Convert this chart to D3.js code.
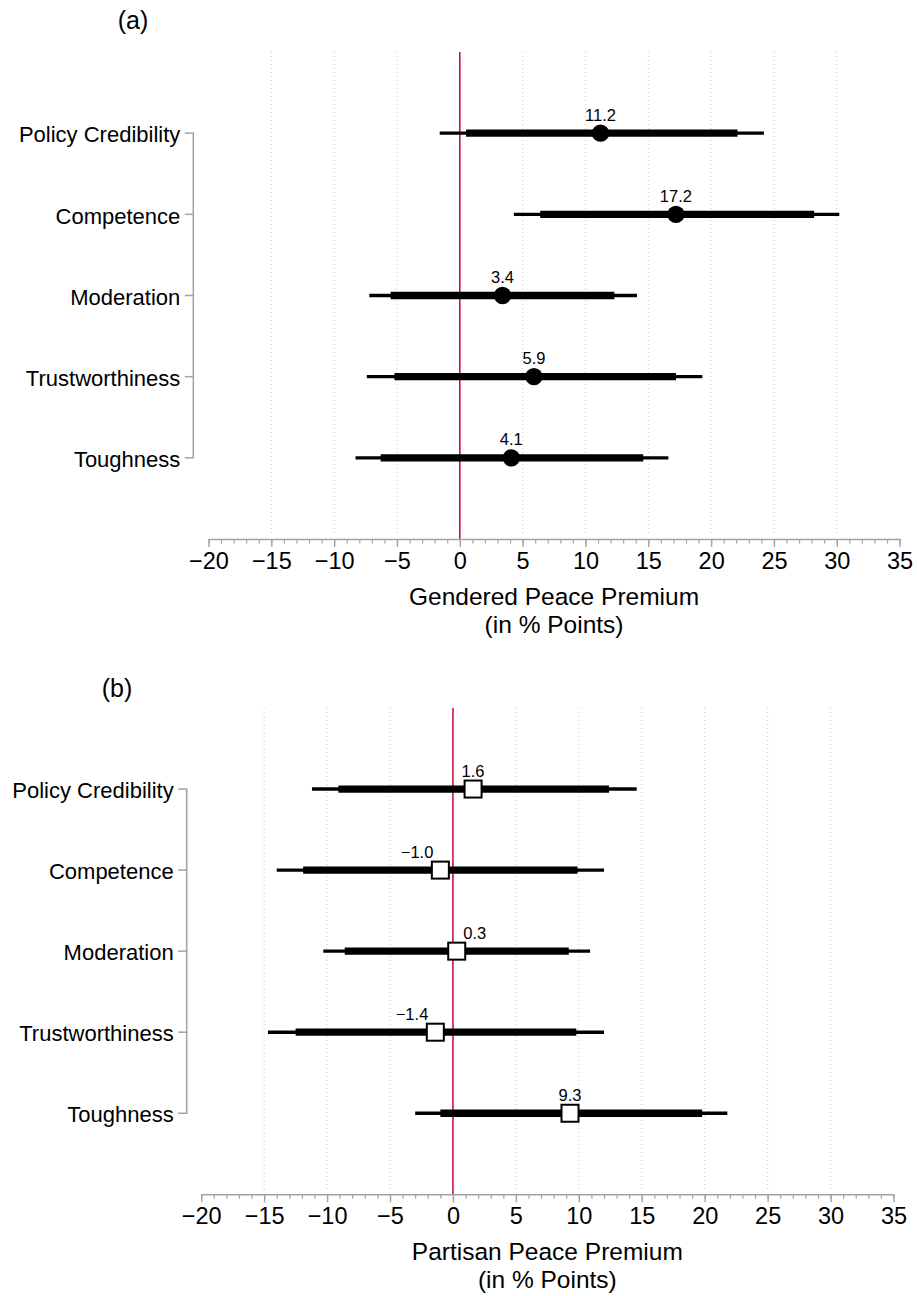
<!DOCTYPE html>
<html>
<head>
<meta charset="utf-8">
<script src="https://cdn.jsdelivr.net/npm/d3@7"></script>
<style>
  body { margin: 0; background: #fff; }
  svg text { font-family: "Liberation Sans", Arial, Helvetica, sans-serif; fill: #000; }
</style>
</head>
<body>
<div id="chart"></div>
<script>
"use strict";
// attributes, top to bottom
const categories = ["Policy Credibility", "Competence", "Moderation", "Trustworthiness", "Toughness"];

// (a) gendered peace premium
const genderedEst = [11.2, 17.2, 3.4, 5.9, 4.1];
const gendered95Lo = [-1.6, 4.3, -7.2, -7.4, -8.3];
const gendered95Hi = [24.2, 30.2, 14.1, 19.3, 16.6];
const gendered90Lo = [0.5, 6.4, -5.5, -5.2, -6.3];
const gendered90Hi = [22.1, 28.2, 12.3, 17.2, 14.6];

// (b) partisan peace premium
const partisanEst = [1.6, -1.0, 0.3, -1.4, 9.3];
const partisan95Lo = [-11.2, -14.0, -10.3, -14.7, -3.0];
const partisan95Hi = [14.6, 12.0, 10.9, 12.0, 21.8];
const partisan90Lo = [-9.1, -11.9, -8.6, -12.5, -1.0];
const partisan90Hi = [12.4, 9.9, 9.2, 9.8, 19.8];

const xTicks = [-20, -15, -10, -5, 0, 5, 10, 15, 20, 25, 30, 35];

const svgWidth = 917;
const svgHeight = 1296;
const axisGray = "#a3a3a3";
const zeroColor = "#c8143c";

const svg = d3.select("#chart")
    .append("svg")
    .attr("width", svgWidth)
    .attr("height", svgHeight);

const fmt = v => (v < 0 ? "\u2212" : "") + d3.format(".1f")(Math.abs(v));

function drawPanel(cfg) {
    const g = svg.append("g");
    const rows = categories.map((c, i) => ({
        name: c,
        est: cfg.est[i],
        lo95: cfg.lo95[i], hi95: cfg.hi95[i],
        lo90: cfg.lo90[i], hi90: cfg.hi90[i]
    }));

    const xScale = d3.scaleLinear().domain([-20, 35]).range(cfg.xRange);
    const yScale = d3.scalePoint().domain(categories).range(cfg.yRange).padding(1);
    const axisY = cfg.yRange[1];
    const gridTop = cfg.yRange[0];

    // dotted grid
    g.selectAll(".grid")
        .data(xTicks.filter(d => d !== 0 && d !== -20 && d !== 35))
        .enter()
        .append("line")
        .attr("x1", d => xScale(d)).attr("x2", d => xScale(d))
        .attr("y1", gridTop).attr("y2", axisY - 4)
        .attr("stroke", "#c8c8c8")
        .attr("stroke-width", 1)
        .attr("stroke-dasharray", "1,3");

    // zero line
    g.append("line")
        .attr("x1", xScale(0)).attr("x2", xScale(0))
        .attr("y1", gridTop).attr("y2", axisY)
        .attr("stroke", zeroColor)
        .attr("stroke-width", 1.6);

    // minor ticks
    const minorAxis = d3.axisBottom(xScale)
        .tickValues(d3.range(-20, 36, 1))
        .tickSize(4.5)
        .tickSizeOuter(0)
        .tickFormat("");
    const minor = g.append("g")
        .attr("transform", `translate(0, ${axisY})`)
        .call(minorAxis);
    minor.select(".domain").remove();
    minor.selectAll("line").attr("stroke", axisGray).attr("stroke-width", 1.2);

    // major ticks and labels
    const xAxis = d3.axisBottom(xScale)
        .tickValues(xTicks)
        .tickSize(8)
        .tickSizeOuter(0)
        .tickPadding(5.5)
        .tickFormat(d => (d < 0 ? "\u2212" : "") + Math.abs(d));
    const major = g.append("g")
        .attr("transform", `translate(0, ${axisY})`)
        .call(xAxis);
    major.select(".domain").attr("stroke", axisGray).attr("stroke-width", 1.5);
    major.selectAll("line").attr("stroke", axisGray).attr("stroke-width", 1.4);
    major.selectAll("text")
        .attr("font-size", 23.5)
        .attr("font-family", "Liberation Sans, Arial, sans-serif")
        .attr("fill", "#000");

    // axis titles
    const midX = (cfg.xRange[0] + cfg.xRange[1]) / 2;
    g.append("text")
        .attr("x", midX).attr("y", axisY + 66)
        .attr("text-anchor", "middle")
        .attr("font-size", 24.5)
        .text(cfg.title);
    g.append("text")
        .attr("x", midX).attr("y", axisY + 94)
        .attr("text-anchor", "middle")
        .attr("font-size", 24.5)
        .text("(in % Points)");

    // left bracket axis with category labels
    const first = yScale(categories[0]);
    const last = yScale(categories[categories.length - 1]);
    g.append("line")
        .attr("x1", cfg.bracketX).attr("x2", cfg.bracketX)
        .attr("y1", first).attr("y2", last)
        .attr("stroke", axisGray).attr("stroke-width", 1.5);
    g.selectAll(".stub")
        .data(categories)
        .enter()
        .append("line")
        .attr("x1", cfg.bracketX - 8.5).attr("x2", cfg.bracketX + 0.75)
        .attr("y1", d => yScale(d)).attr("y2", d => yScale(d))
        .attr("stroke", axisGray).attr("stroke-width", 1.5);
    g.selectAll(".cat")
        .data(categories)
        .enter()
        .append("text")
        .attr("x", cfg.bracketX - 13)
        .attr("y", d => yScale(d))
        .attr("dy", "0.42em")
        .attr("text-anchor", "end")
        .attr("font-size", 22)
        .text(d => d);

    // confidence intervals
    g.selectAll(".ci95")
        .data(rows)
        .enter()
        .append("line")
        .attr("x1", d => xScale(d.lo95)).attr("x2", d => xScale(d.hi95))
        .attr("y1", d => yScale(d.name)).attr("y2", d => yScale(d.name))
        .attr("stroke", "#000").attr("stroke-width", 3.4);
    g.selectAll(".ci90")
        .data(rows)
        .enter()
        .append("line")
        .attr("x1", d => xScale(d.lo90)).attr("x2", d => xScale(d.hi90))
        .attr("y1", d => yScale(d.name)).attr("y2", d => yScale(d.name))
        .attr("stroke", "#000").attr("stroke-width", 7.3);

    // point estimates
    if (cfg.marker === "circle") {
        g.selectAll(".pt")
            .data(rows)
            .enter()
            .append("circle")
            .attr("cx", d => xScale(d.est))
            .attr("cy", d => yScale(d.name))
            .attr("r", 8.7)
            .attr("fill", "#000");
    } else {
        const s = 17;
        g.selectAll(".pt")
            .data(rows)
            .enter()
            .append("rect")
            .attr("x", d => xScale(d.est) - s / 2)
            .attr("y", d => yScale(d.name) - s / 2)
            .attr("width", s).attr("height", s)
            .attr("fill", "#fff")
            .attr("stroke", "#000")
            .attr("stroke-width", 2);
    }

    // value labels, nudged off the zero line when they would cross it
    g.selectAll(".val")
        .data(rows)
        .enter()
        .append("text")
        .attr("font-size", 16.5)
        .attr("y", d => yScale(d.name) - 12.5)
        .each(function (d) {
            const t = d3.select(this).text(fmt(d.est));
            const w = this.getComputedTextLength();
            const cx = xScale(d.est);
            const x0 = xScale(0);
            if (Math.abs(cx - x0) < w / 2 + 2) {
                if (d.est < 0) t.attr("x", cx - 7).attr("text-anchor", "end");
                else t.attr("x", cx + 6.5).attr("text-anchor", "start");
            } else {
                t.attr("x", cx).attr("text-anchor", "middle");
            }
        });

    // panel letter
    svg.append("text")
        .attr("x", cfg.letterPos[0]).attr("y", cfg.letterPos[1])
        .attr("text-anchor", "middle")
        .attr("font-size", 25)
        .text(cfg.letter);
}

drawPanel({
    est: genderedEst, lo95: gendered95Lo, hi95: gendered95Hi, lo90: gendered90Lo, hi90: gendered90Hi,
    xRange: [208.5, 899.6], yRange: [52, 539],
    bracketX: 193.3, title: "Gendered Peace Premium",
    marker: "circle", letter: "(a)", letterPos: [133, 29]
});

drawPanel({
    est: partisanEst, lo95: partisan95Lo, hi95: partisan95Hi, lo90: partisan90Lo, hi90: partisan90Hi,
    xRange: [201.2, 893.5], yRange: [708, 1194.3],
    bracketX: 186.7, title: "Partisan Peace Premium",
    marker: "square", letter: "(b)", letterPos: [117, 697]
});
</script>
</body>
</html>
